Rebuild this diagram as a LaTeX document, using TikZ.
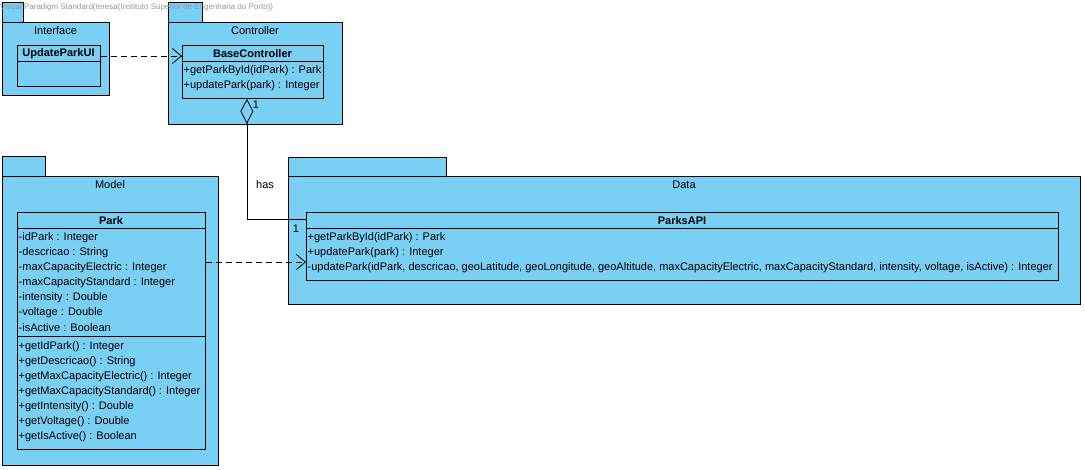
\documentclass[tikz,border=0pt]{standalone}
\usepackage{fontspec}
\setmainfont{Liberation Sans}
\usetikzlibrary{arrows.meta}
\definecolor{pkgblue}{RGB}{122,207,245}
\definecolor{wmgray}{RGB}{150,150,150}
\tikzset{
  pkg/.style={draw=black, fill=pkgblue, line width=0.8pt},
  classbox/.style={draw=black, fill=pkgblue, line width=0.8pt, rectangle, inner sep=0pt, anchor=north west},
  sepline/.style={draw=black, line width=0.8pt},
  member/.style={anchor=west, inner sep=0pt, font=\fontsize{11}{13}\selectfont},
  title/.style={inner sep=0pt, font=\fontsize{11}{13}\selectfont},
  cname/.style={inner sep=0pt, font=\fontsize{11}{13}\selectfont\bfseries},
  dep/.style={draw=black, line width=0.8pt, dash pattern=on 6pt off 4pt, -{Straight Barb[length=9pt,width=15pt,line width=0.8pt]}},
  agg/.style={draw=black, line width=0.8pt, -{Diamond[open,length=25pt,width=13pt,line width=0.8pt]}},
  mult/.style={inner sep=0pt, font=\fontsize{11}{13}\selectfont}
}
\begin{document}
\begin{tikzpicture}[x=1pt,y=-1pt]
\useasboundingbox (0,0) rectangle (1085,470);

% ---- packages: tab + body ----
% Interface
\draw[pkg] (2,2) rectangle (23,22);
\draw[pkg] (2,22) rectangle (109,95);
\node[title] (tInterface) at (55.5,31) {Interface};
% Controller
\draw[pkg] (168,2) rectangle (202,22);
\draw[pkg] (168,22) rectangle (342,124);
\node[title] (tController) at (255,31) {Controller};
% Model
\draw[pkg] (2,156) rectangle (45,176);
\draw[pkg] (2,176) rectangle (218,465);
\node[title] (tModel) at (110,185) {Model};
% Data
\draw[pkg] (288,157) rectangle (446,176);
\draw[pkg] (288,176) rectangle (1080,304);
\node[title] (tData) at (684,185) {Data};

% ---- classes ----
% UpdateParkUI
\node[classbox, minimum width=83pt, minimum height=41pt] (ui) at (17,45) {};
\draw[sepline] (17,61) -- (100,61);
\node[cname] (uiName) at (58.5,53.5) {UpdateParkUI};

% BaseController
\node[classbox, minimum width=141pt, minimum height=53pt] (bc) at (182,45) {};
\draw[sepline] (182,61) -- (323,61);
\node[cname] (bcName) at (252.5,53.5) {BaseController};
\node[member] (bc1) at (183.5,71) {+getParkById(idPark) : Park};
\node[member] (bc2) at (183.5,86) {+updatePark(park) : Integer};

% Park
\node[classbox, minimum width=188pt, minimum height=237pt] (park) at (17,212) {};
\draw[sepline] (17,228) -- (205,228);
\draw[sepline] (17,336) -- (205,336);
\node[cname] (parkName) at (111,220.5) {Park};
\node[member] (pa1) at (18.5,237.5) {-idPark : Integer};
\node[member] (pa2) at (18.5,252.5) {-descricao : String};
\node[member] (pa3) at (18.5,267.5) {-maxCapacityElectric : Integer};
\node[member] (pa4) at (18.5,282.5) {-maxCapacityStandard : Integer};
\node[member] (pa5) at (18.5,297.5) {-intensity : Double};
\node[member] (pa6) at (18.5,312.5) {-voltage : Double};
\node[member] (pa7) at (18.5,327.5) {-isActive : Boolean};
\node[member] (pm1) at (18.5,346.5) {+getIdPark() : Integer};
\node[member] (pm2) at (18.5,361.5) {+getDescricao() : String};
\node[member] (pm3) at (18.5,376.5) {+getMaxCapacityElectric() : Integer};
\node[member] (pm4) at (18.5,391.5) {+getMaxCapacityStandard() : Integer};
\node[member] (pm5) at (18.5,406.5) {+getIntensity() : Double};
\node[member] (pm6) at (18.5,421.5) {+getVoltage() : Double};
\node[member] (pm7) at (18.5,436.5) {+getIsActive() : Boolean};

% ParksAPI
\node[classbox, minimum width=752pt, minimum height=68pt] (api) at (306,212) {};
\draw[sepline] (306,228) -- (1058,228);
\node[cname] (apiName) at (682,220.5) {ParksAPI};
\node[member] (api1) at (307.5,237.5) {+getParkById(idPark) : Park};
\node[member] (api2) at (307.5,252.5) {+updatePark(park) : Integer};
\node[member] (api3) at (307.5,267.5) {-updatePark(idPark, descricao, geoLatitude, geoLongitude, geoAltitude, maxCapacityElectric, maxCapacityStandard, intensity, voltage, isActive) : Integer};

% ---- connectors ----
\draw[dep] ([yshift=-11pt]ui.north east) -- ([yshift=-11pt]bc.north west);
\draw[dep] ([yshift=-50pt]park.north east) -- ([yshift=-50pt]api.north west);
\draw[agg] ([yshift=-7pt]api.north west) -| ([xshift=-6pt]bc.south);
\node[mult] (m1) at (256,105) {1};
\node[mult] (m2) at (296,228.5) {1};
\node[mult] (has) at (265,184.5) {has};

% ---- edition banner ----
\node[anchor=west, inner sep=0pt, text=wmgray, font=\fontsize{8}{9}\selectfont] (banner) at (0,7) {Visual Paradigm Standard(teresa(Instituto Superior de Engenharia do Porto))};
\end{tikzpicture}
\end{document}
